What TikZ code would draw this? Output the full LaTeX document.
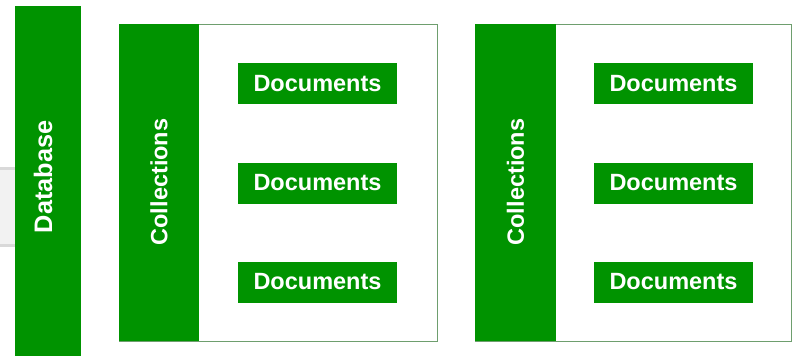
\documentclass[tikz,border=0pt]{standalone}
\usepackage{fontspec}
\setmainfont{Liberation Sans}
\definecolor{dbgreen}{HTML}{009300}
\definecolor{boxline}{HTML}{6E9E6E}
\definecolor{bandfill}{HTML}{F2F2F2}
\definecolor{bandline}{HTML}{D9D9D9}
\begin{document}
\begin{tikzpicture}[x=1pt,y=-1pt,
  greenbar/.style={fill=dbgreen,draw=none,inner sep=0pt,outer sep=0pt},
  collbox/.style={draw=boxline,line width=0.8pt,fill=white,inner sep=0pt},
  docbox/.style={fill=dbgreen,draw=none,minimum width=159pt,minimum height=41pt,inner sep=0pt,
    text=white,font=\bfseries\fontsize{23.5}{26}\selectfont},
  vlabel/.style={text=white,rotate=90,font=\bfseries\fontsize{23.5}{26}\selectfont,inner sep=0pt}]
\useasboundingbox (0,0) rectangle (792,356);
% gray band behind database
\fill[bandline] (0,167) rectangle (16,247);
\fill[bandfill] (0,170) rectangle (16,244);
% database bar
\path[greenbar] (15,6) rectangle (81,356);
\node[vlabel,font=\bfseries\fontsize{25.3}{28}\selectfont] (db) at (43,177) {Database};
% collection 1
\draw[collbox] (119,24) rectangle (437,341);
\fill[dbgreen] (119,24) rectangle (199,341);
\node[vlabel] (c1) at (159,182) {Collections};
\node[docbox] (d11) at (317.5,83.5) {Documents};
\node[docbox] (d12) at (317.5,183) {Documents};
\node[docbox] (d13) at (317.5,282) {Documents};
% collection 2
\draw[collbox] (475,24) rectangle (791,341);
\fill[dbgreen] (475,24) rectangle (556,341);
\node[vlabel] (c2) at (515.5,182) {Collections};
\node[docbox] (d21) at (673.5,83.5) {Documents};
\node[docbox] (d22) at (673.5,183) {Documents};
\node[docbox] (d23) at (673.5,282) {Documents};
\end{tikzpicture}
\end{document}
